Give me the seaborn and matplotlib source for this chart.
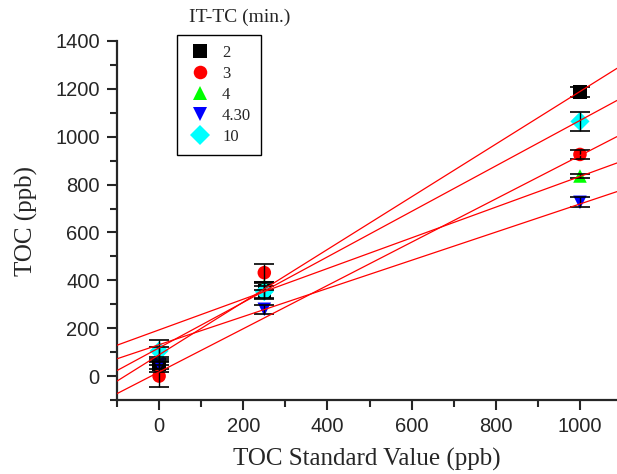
import numpy as np
import pandas as pd
import seaborn as sns
import matplotlib.pyplot as plt
from matplotlib.ticker import MultipleLocator

# standard values (x) and measured TOC per IT-TC time
std_values = [0, 250, 1000]
times = ['2', '3', '4', '4.30', '10']
toc = {
    '2':    [48, 355, 1188],
    '3':    [0, 432, 926],
    '4':    [92, 377, 836],
    '4.30': [50, 279, 726],
    '10':   [105, 353, 1064],
}
toc_err = {
    '2':    [30, 35, 20],
    '3':    [45, 38, 19],
    '4':    [28, 18, 9],
    '4.30': [22, 20, 21],
    '10':   [45, 25, 38],
}
# fitted lines (intercept, slope)
fit_intercepts = [89, 17, 193, 131, 118]
fit_slopes = [1.100, 0.904, 0.641, 0.588, 0.950]

colors = {'2': 'black', '3': '#ff0000', '4': '#00ff00', '4.30': '#0000ff', '10': '#00ffff'}
markers = {'2': 's', '3': 'o', '4': '^', '4.30': 'v', '10': 'D'}

rows = []
for t in times:
    for xv, yv, ev in zip(std_values, toc[t], toc_err[t]):
        rows.append({'std': xv, 'toc': yv, 'err': ev, 'time': t})
df = pd.DataFrame(rows)

sns.set_style('ticks')
plt.rcParams['font.family'] = ['Liberation Sans', 'DejaVu Sans']

fig = plt.figure(figsize=(6.17, 4.74), dpi=100)
ax = fig.add_axes([117 / 617, 1 - 400 / 474, 1 - 117 / 617, (400 - 41) / 474])

sns.scatterplot(data=df, x='std', y='toc', hue='time', style='time',
                hue_order=times, style_order=times, palette=colors,
                markers=markers, s=95, linewidth=0, ax=ax, zorder=2)

for t in times:
    sub = df[df['time'] == t]
    ax.errorbar(sub['std'], sub['toc'], yerr=sub['err'], fmt='none',
                ecolor='black', elinewidth=1, capsize=7.5, capthick=1.2, zorder=3)

for b, m in zip(fit_intercepts, fit_slopes):
    ax.axline((0, b), slope=m, color='#ff0000', lw=0.9, zorder=4)

ax.set_xlim(-100, 1088)
ax.set_ylim(-100, 1400)
ax.xaxis.set_major_locator(MultipleLocator(200))
ax.xaxis.set_minor_locator(MultipleLocator(100))
ax.yaxis.set_major_locator(MultipleLocator(200))
ax.yaxis.set_minor_locator(MultipleLocator(100))
ax.set_xticks([0, 200, 400, 600, 800, 1000])
ax.tick_params(which='major', length=7.5, width=1.5, labelsize=14.5, direction='out', pad=5)
ax.tick_params(which='minor', length=5, width=1.5, direction='out')
for side in ['left', 'bottom']:
    ax.spines[side].set_linewidth(1.6)
sns.despine(ax=ax)

ax.set_xlabel('TOC Standard Value (ppb)', family='Liberation Serif', fontsize=18, labelpad=8)
ax.set_ylabel('TOC (ppb)', family='Liberation Serif', fontsize=18, labelpad=12)

handles, labels = ax.get_legend_handles_labels()
if ax.legend_:
    ax.legend_.remove()
leg = fig.legend(handles, labels, loc='upper left', bbox_to_anchor=(177 / 617, 1 - 35 / 474),
                 frameon=True, fancybox=False, edgecolor='black', framealpha=1,
                 prop={'family': 'Liberation Serif', 'size': 12}, handletextpad=0.5,
                 labelspacing=0.3, borderpad=0.6, handlelength=1.6, markerscale=1.0,
                 borderaxespad=0)
leg.get_frame().set_linewidth(1.0)
fig.text(189 / 617, 1 - 17 / 474, 'IT-TC (min.)', family='Liberation Serif', fontsize=14,
         ha='left', va='center')

fig.savefig('out.png', dpi=100)
